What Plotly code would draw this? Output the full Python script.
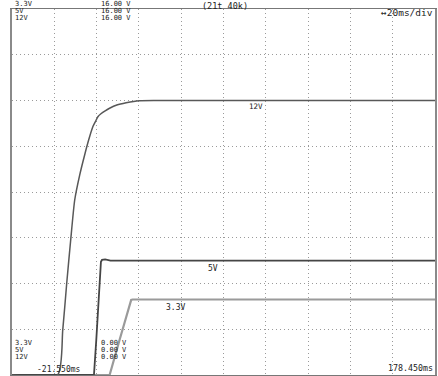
import plotly.graph_objects as go

# Time axis (ms) and channel traces (V)
t_start, t_end = -21.55, 178.45
v_min, v_max = 0.0, 16.0

t_12v = [-21.55, 0.0, 2.45, 4.33, 6.2, 8.1, 10.45, 12.8, 14.69, 16.71, 18.0, 19.06,
         20.5, 22.5, 24.57, 28.0, 32.42, 38.68, 48.1, 178.45]
v_12v = [0.0, 0.0, 1.97, 4.02, 5.9, 7.65, 8.74, 9.62, 10.27, 10.86, 11.1, 11.29,
         11.42, 11.55, 11.66, 11.8, 11.9, 11.99, 12.0, 12.0]

t_5v = [-21.55, 17.2, 18.3, 20.5, 21.0, 22.5, 25.0, 178.45]
v_5v = [0.0, 0.0, 1.53, 4.95, 5.03, 5.05, 5.0, 5.0]

t_3v3 = [-21.55, 24.6, 29.3, 34.8, 35.5, 178.45]
v_3v3 = [0.0, 0.0, 1.53, 3.28, 3.3, 3.3]

channel_names = ["3.3V", "5V", "12V"]
top_levels = ["16.00 V", "16.00 V", "16.00 V"]
bottom_levels = ["0.00 V", "0.00 V", "0.00 V"]
timebase = "\u219420ms/div"
record_info = "(21t 40k)"
left_time = "-21.550ms"
right_time = "178.450ms"

W, H = 438, 376
L, R, T, B = 12, 1, 9, 1
plot_h = H - T - B
plot_w = W - L - R

def py(ypix):
    return (H - B - ypix) / plot_h

def px(xpix):
    return (xpix - L) / plot_w

fig = go.Figure()
fig.add_trace(go.Scatter(x=t_3v3, y=v_3v3, mode="lines",
                         line=dict(color="#9a9a9a", width=2.2), name="3.3V"))
fig.add_trace(go.Scatter(x=t_5v, y=v_5v, mode="lines",
                         line=dict(color="#454545", width=1.8), name="5V"))
fig.add_trace(go.Scatter(x=t_12v, y=v_12v, mode="lines",
                         line=dict(color="#585858", width=1.5, shape="spline", smoothing=0.6),
                         name="12V"))

ann = []

def label(text, xpix, ypix, anchor="left", size=7):
    f = dict(family="DejaVu Sans Mono", size=size, color="#222222")
    ann.append(dict(text=text, xref="paper", yref="paper", x=px(xpix), y=py(ypix),
                    xanchor=anchor, yanchor="middle", showarrow=False, font=f))

row_y_top = [4, 11, 18]
row_y_bot = [343, 350, 357]
for name, lvl, yy in zip(channel_names, top_levels, row_y_top):
    label(name, 13, yy)
    label(lvl, 99, yy)
for name, lvl, yy in zip(channel_names, bottom_levels, row_y_bot):
    label(name, 13, yy)
    label(lvl, 99, yy)

label(record_info, 226, 6, "center", 8.5)
label(timebase, 437, 12, "right", 9.5)
label(left_time, 35, 369, size=8)
label(right_time, 437, 368, "right", 8.3)

# Trace labels on the plateaus
label(channel_names[2], 248, 107, size=7.5)
label(channel_names[1], 207, 268, size=8)
label(channel_names[0], 165, 307, size=8)

grid = dict(showgrid=True, gridcolor="#9a9a9a", gridwidth=1, griddash="1px,3px",
            zeroline=False, showticklabels=False, ticks="")

fig.update_layout(
    width=W, height=H,
    margin=dict(l=L, r=R, t=T, b=B),
    paper_bgcolor="white", plot_bgcolor="white",
    showlegend=False,
    xaxis=dict(range=[t_start, t_end], tick0=t_start, dtick=20,
               showline=True, mirror=True, linecolor="#777777", linewidth=1, **grid),
    yaxis=dict(range=[v_min, v_max], tick0=0, dtick=2,
               showline=True, mirror=True, linecolor="#8a8a8a", linewidth=2, **grid),
    annotations=ann,
)

fig.write_html("out.html")
